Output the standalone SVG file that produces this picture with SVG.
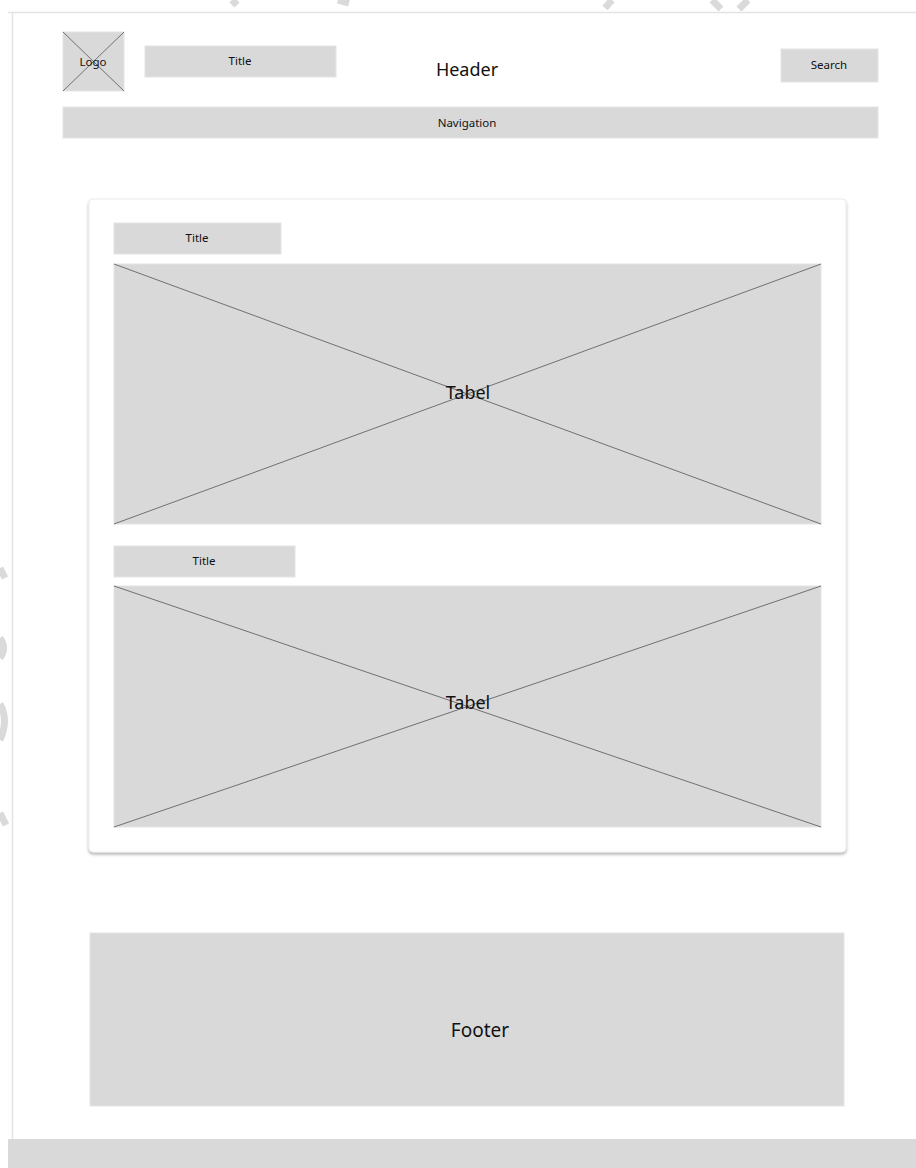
<svg xmlns="http://www.w3.org/2000/svg" width="916" height="1168" viewBox="0 0 916 1168">
  <defs>
    <style>
      .box { fill: #d9d9d9; stroke: #e4e4e4; stroke-width: 1; }
      .x { stroke: #555; stroke-width: 0.8; fill: none; }
      .lbl { font-family: "Noto Sans", "Open Sans", sans-serif; fill: #111; text-anchor: middle; dominant-baseline: central; }
      .s { font-size: 11.5px; }
      .l { font-size: 18px; }
      .xl { font-size: 19px; }
      .wm { stroke: #dadada; stroke-width: 7; fill: none; stroke-linecap: butt; }
    </style>
    <filter id="shadow" x="-5%" y="-5%" width="110%" height="110%">
      <feDropShadow dx="0" dy="2" stdDeviation="1.5" flood-color="#000" flood-opacity="0.3"/>
    </filter>
  </defs>
  <rect x="0" y="0" width="916" height="1168" fill="#ffffff"/>
  <g id="watermark">
    <path class="wm" d="M232 0 L237 5"/>
    <path class="wm" d="M338 0 L349 3"/>
    <path class="wm" d="M612 0 L605 8"/>
    <path class="wm" d="M712 0 L721 9 M748 0 L739 9"/>
    <path class="wm" d="M0 568 L5 578"/>
    <path class="wm" d="M0 638 Q7 648 0 658"/>
    <path class="wm" d="M0 704 Q9 720 0 740"/>
    <path class="wm" d="M0 813 L6 825"/>
  </g>
  <g id="page">
    <path d="M8 12.5 H916 M12.5 12 V1168" stroke="#e3e3e3" stroke-width="1.5" fill="none"/>
    <rect x="8" y="1139" width="908" height="29" fill="#d9d9d9"/>
  </g>
  <g id="logo">
    <rect class="box" x="63" y="32" width="61" height="59"/>
    <path class="x" d="M63 32 L124 91 M124 32 L63 91"/>
    <text class="lbl s" x="93" y="61">Logo</text>
  </g>
  <g id="title-header">
    <rect class="box" x="145" y="46" width="191" height="31"/>
    <text class="lbl s" x="240" y="60">Title</text>
  </g>
  <g id="header">
    <text class="lbl l" x="467" y="69">Header</text>
  </g>
  <g id="search">
    <rect class="box" x="781" y="49" width="97" height="33"/>
    <text class="lbl s" x="829" y="64">Search</text>
  </g>
  <g id="navigation">
    <rect class="box" x="63" y="107" width="815" height="31"/>
    <text class="lbl s" x="467" y="122">Navigation</text>
  </g>
  <g id="card">
    <rect x="89" y="199" width="757" height="653" rx="4" fill="#ffffff" stroke="#ececec" stroke-width="1" filter="url(#shadow)"/>
  </g>
  <g id="title-1">
    <rect class="box" x="114" y="223" width="167" height="31"/>
    <text class="lbl s" x="197" y="237">Title</text>
  </g>
  <g id="tabel-1">
    <rect class="box" x="114" y="264" width="707" height="260"/>
    <path class="x" d="M114 264 L821 524 M821 264 L114 524"/>
    <text class="lbl l" x="468" y="392">Tabel</text>
  </g>
  <g id="title-2">
    <rect class="box" x="114" y="546" width="181" height="31"/>
    <text class="lbl s" x="204" y="560">Title</text>
  </g>
  <g id="tabel-2">
    <rect class="box" x="114" y="586" width="707" height="241"/>
    <path class="x" d="M114 586 L821 827 M821 586 L114 827"/>
    <text class="lbl l" x="468" y="702">Tabel</text>
  </g>
  <g id="footer">
    <rect class="box" x="90" y="933" width="754" height="173"/>
    <text class="lbl xl" x="480" y="1030">Footer</text>
  </g>
  <g id="connectors"></g>
</svg>
